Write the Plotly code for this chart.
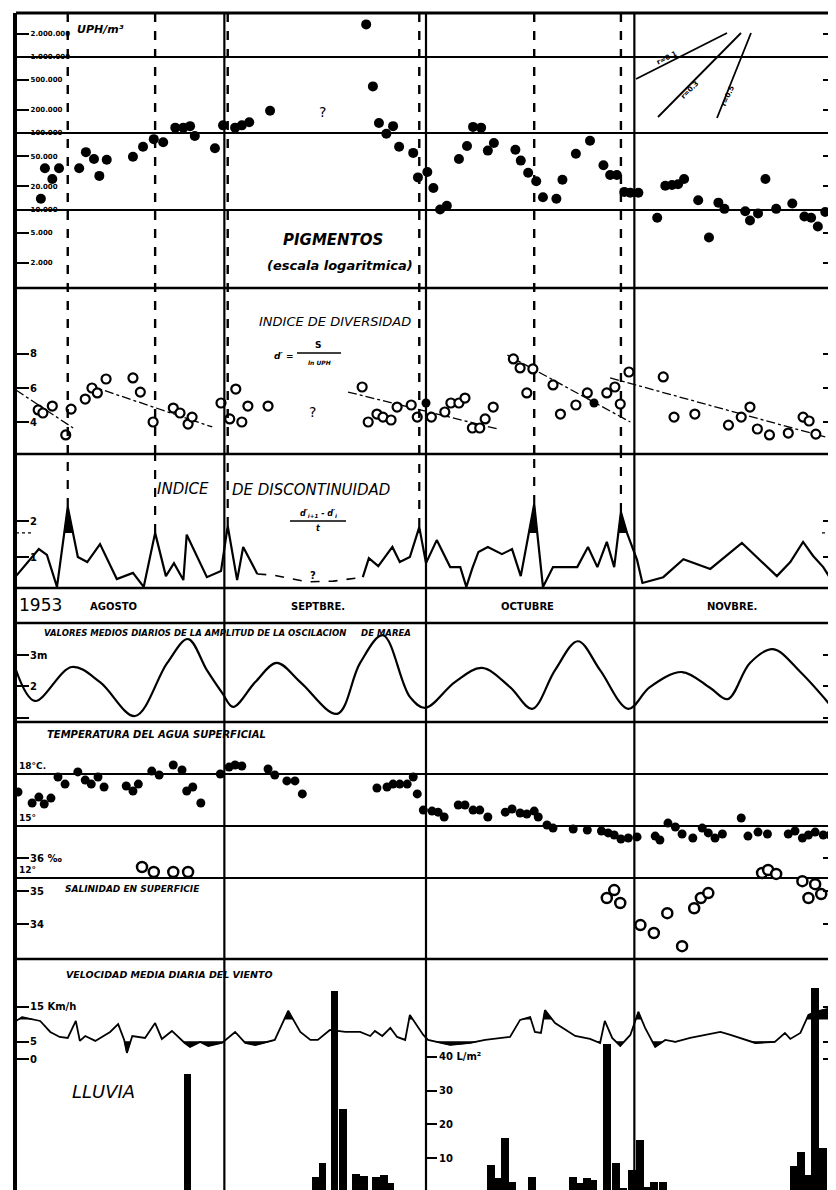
import plotly.graph_objects as go
import numpy as np

# ---------------- DATA (day index: 0 = start of 1 Aug 1953) ----------------
month_start = [31, 61, 92]          # Sept, Oct, Nov boundaries
month_names = ["AGOSTO", "SEPTBRE.", "OCTUBRE", "NOVBRE."]

pig_day = [3.7,4.3,5.4,6.4,9.4,10.4,11.6,12.4,13.5,17.4,18.9,20.5,21.9,23.7,24.9,25.9,26.6,29.6,30.8,32.6,
           33.6,34.7,37.8,52.1,53.1,54.0,55.1,56.1,57.0,59.1,59.8,61.2,62.1,63.1,64.1,65.9,67.1,68.0,69.2,70.2,
           71.1,74.3,75.1,76.2,77.4,78.4,80.4,81.3,83.3,85.4,87.4,88.4,89.4,90.5,91.4,92.6,95.4,96.6,97.6,98.5,
           99.4,101.5,103.1,104.5,105.4,108.5,109.2,110.4,111.5,113.1,115.5,117.3,118.3,119.3,120.4,121.7]
pig_uph = [13800,34700,25100,34700,34700,56200,45700,27500,44700,49000,66100,83200,75900,117500,117500,123000,91200,63100,125900,117500,
           125900,138000,195000,2630000,407000,135000,97700,123000,66100,55000,26300,30900,19100,10000,11200,45700,67600,120200,117500,58900,
           74100,60300,43600,30200,23400,14500,13800,24500,53700,79400,38000,28200,28200,17000,16600,16600,7800,20400,20900,21400,
           25100,13200,4300,12300,10200,9500,7200,8900,25100,10200,12000,8100,7800,6000,9300,12000]

div_day = [3.3,4.0,5.4,7.4,8.2,10.3,11.3,12.1,13.4,17.4,18.5,20.4,23.4,24.4,25.6,26.2,30.5,31.8,32.7,33.6,
           34.5,37.5,51.5,52.4,53.7,54.6,55.8,56.7,58.8,59.7,61.8,63.8,64.7,65.9,66.8,67.9,69.0,69.8,71.0,74.0,
           75.0,76.9,76.0,79.9,81.0,83.3,85.0,87.9,89.1,89.9,91.2,96.3,97.9,101.0,106.0,107.9,109.2,110.3,112.1,114.9,
           117.1,118.0,119.0]
div_val = [4.71,4.53,4.94,3.24,4.76,5.35,6.0,5.71,6.53,6.59,5.76,4.0,4.82,4.53,3.88,4.29,5.12,4.18,5.94,4.0,
           4.94,4.94,6.06,4.0,4.47,4.29,4.12,4.88,5.0,4.29,4.29,4.59,5.12,5.12,5.41,3.65,3.65,4.18,4.88,7.71,
           7.18,7.12,5.71,6.18,4.47,5.0,5.71,5.71,6.06,5.06,6.94,6.65,4.29,4.47,3.82,4.29,4.88,3.59,3.24,3.35,
           4.29,4.06,3.29]
div_solid_day = [61.0, 86.0, 122.0]
div_solid_val = [5.12, 5.12, 5.18]
trend_day = [[0, 8.5], [10.7, 29.2], [49.4, 71.7], [73.1, 91.4], [88.4, 120.4]]
trend_val = [[5.88, 3.65], [6.18, 3.71], [5.76, 3.59], [7.94, 4.0], [6.59, 3.12]]

disc_day_a = [0,3.4,4.6,6.1,7.7,9.2,10.6,12.5,15.0,17.4,19.0,20.7,22.3,23.5,24.9,25.4,28.4,30.5,31.5,32.9,33.8,35.9]
disc_val_a = [0.47,1.22,1.06,0.17,2.39,1.0,0.86,1.36,0.39,0.56,0.17,1.67,0.47,0.83,0.36,1.62,0.44,0.61,1.86,0.36,1.28,0.53]
disc_day_gap = [35.9, 38.2, 43.3, 47.2, 51.6]
disc_val_gap = [0.53, 0.50, 0.31, 0.33, 0.44]
disc_day_b = [51.6,52.5,53.9,56.0,57.1,58.6,60.0,60.7,61.0,62.6,64.6,66.1,67.0,67.9,68.8,70.2,72.3,73.8,75.1,77.1,
              78.4,79.9,83.5,85.1,86.5,87.9,89.0,90.0,90.9,92.4,93.2,96.3,99.3,103.3,108.0,113.2,115.2,117.1,118.6,120.1,121.6]
disc_val_b = [0.44,0.97,0.75,1.28,0.86,1.0,1.83,1.14,0.83,1.47,0.72,0.72,0.17,0.69,1.14,1.28,1.08,1.22,0.47,2.47,
              0.17,0.72,0.72,1.28,0.72,1.42,0.72,2.25,1.67,0.92,0.28,0.44,0.94,0.67,1.39,0.47,0.86,1.42,1.03,0.72,0.28]
disc_threshold = 1.67
disc_peak_day = [7.7, 20.7, 31.5, 60.0, 77.1, 90.0]

tide_day = [0,2.8,8.3,12.5,17.7,22.5,25.6,28.4,30.7,32.3,35.6,38.8,42.3,47.8,51.2,54.6,58.6,60.9,65.3,69.3,
            73.5,76.8,80.2,83.6,86.9,91.1,94.3,99.1,103.3,105.9,109.2,112.6,116.7,122]
tide_m = [2.52,1.54,2.62,2.14,1.06,2.75,3.51,2.52,1.79,1.35,2.14,2.75,2.14,1.13,2.75,3.63,1.67,1.32,2.14,2.59,
          1.98,1.29,2.52,3.44,2.52,1.29,1.98,2.46,1.95,1.60,2.75,3.19,2.46,1.19]

temp_day = [0.3,2.4,3.4,4.2,5.2,6.25,7.3,9.2,10.3,11.2,12.2,13.1,16.4,17.4,18.2,20.2,21.3,23.4,24.7,25.4,
            26.3,27.5,30.4,31.7,32.6,33.6,37.5,38.5,40.3,41.5,42.6,53.7,55.2,56.1,57.1,58.2,59.1,59.7,60.6,61.9,
            62.8,63.7,65.8,66.8,68.0,69.0,70.2,72.8,73.8,75.0,76.0,77.1,77.7,79.0,79.9,82.9,85.0,87.1,88.1,89.0,
            90.0,91.1,92.4,95.1,95.8,97.0,98.1,99.1,100.7,102.1,103.0,104.0,105.1,107.9,108.9,110.4,111.8,114.9,115.9,117.0,
            117.9,118.9,120.1,121.1]
temp_c = [16.96,16.33,16.67,16.27,16.61,17.83,17.42,18.12,17.65,17.42,17.83,17.25,17.31,17.02,17.42,18.17,17.94,18.52,18.23,17.02,
          17.25,16.33,18.0,18.4,18.52,18.46,18.29,17.94,17.6,17.6,16.85,17.19,17.25,17.42,17.42,17.42,17.83,16.85,15.92,15.86,
          15.8,15.52,16.21,16.21,15.92,15.92,15.52,15.8,15.98,15.75,15.69,15.86,15.52,15.06,14.88,14.83,14.77,14.71,14.6,14.48,
          14.25,14.31,14.37,14.42,14.19,15.17,14.94,14.54,14.31,14.88,14.6,14.31,14.54,15.46,14.42,14.65,14.54,14.54,14.71,14.31,
          14.48,14.65,14.48,14.48]

sal_day = [18.75,20.5,23.4,25.6,87.9,89.0,89.9,92.9,94.9,96.9,99.1,100.9,101.9,103.0,111.0,111.9,113.1,117.0,117.9,118.9,119.8]
sal_ppt = [35.73,35.58,35.58,35.58,34.79,35.03,34.64,33.97,33.73,34.33,33.33,34.48,34.79,34.94,35.55,35.64,35.52,35.3,34.79,35.21,34.91]

wind_day = [0,0.9,3.6,5.1,6.5,7.7,8.9,9.5,10.3,11.8,14.0,15.2,16.1,16.5,17.3,19.2,20.7,21.7,23.2,25.1,
            25.9,27.4,28.6,30.7,32.6,34.1,35.6,37.5,38.5,40.5,42.3,43.8,44.9,46.7,49.0,51.2,52.7,53.4,54.5,55.7,
            56.7,57.9,58.6,60.6,61.3,64.6,67.6,69.8,73.5,75.0,76.5,77.2,78.1,78.7,80.2,83.2,85.4,86.9,87.6,88.7,
            89.9,91.4,92.6,93.6,95.1,96.6,98.1,100.3,104.8,106.3,108.5,110.0,112.9,114.4,115.2,116.7,117.9,118.9,122.0]
wind_kmh = [11.0,12.1,11.0,7.86,6.43,6.14,11.0,5.3,6.7,5.3,7.86,10.1,5.57,1.86,6.7,6.14,10.4,5.86,8.14,4.71,
            3.57,5.0,3.86,4.8,7.86,4.71,4.14,5.0,5.57,13.9,7.86,5.57,5.57,8.43,7.86,7.86,6.7,8.14,6.7,9.0,
            6.43,5.57,12.7,7.0,5.57,4.14,4.71,5.57,6.43,11.3,12.1,7.86,7.57,14.1,10.4,6.7,5.86,4.71,11.0,6.14,
            3.86,7.0,13.6,9.0,3.57,5.57,5.0,6.14,7.86,7.0,5.57,4.71,5.0,7.57,5.86,7.57,12.7,13.6,15.0]
wind_hi, wind_lo = 11.4, 5.2

rain_day = [25.5,44.6,45.6,47.4,48.6,50.6,51.8,53.6,54.7,55.7,70.7,71.7,72.7,73.8,76.8,82.9,84.0,85.0,85.9,87.9,
            89.3,90.3,91.7,92.8,93.7,94.9,96.3,115.7,116.8,117.8,118.9,120.1]
rain_mm = [35,4.4,8.6,59.6,24.6,5.2,4.8,4.4,5.0,2.6,8.0,4.0,16.0,3.0,4.4,4.4,2.6,4.0,3.5,44,
           8.6,1.0,6.5,15.4,1.5,3.0,3.0,7.7,11.8,5.0,60.5,13.0]

# ---------------- LAYOUT HELPERS ----------------
# the page body has an 8px margin, so the figure starts at page (8, 8)
PAGE_W, PAGE_H = 836, 1190
BODY = 8
W, H = PAGE_W - BODY, PAGE_H - BODY
PL, PT = 16, 13                      # plot area origin on the page
ML, MT = PL - BODY, PT - BODY
PW, PH = PAGE_W - PL, PAGE_H - PT
FONT = "DejaVu Sans"


def dom(top, bottom):
    return [(PAGE_H - bottom) / PH, (PAGE_H - top) / PH]


def px(xp):
    return (xp - PL) / PW


def py(yp):
    return (PAGE_H - yp) / PH


def excursions(xs, ys, thr, above=True):
    s = 1 if above else -1
    polys, cur = [], None
    for i in range(len(xs)):
        v = (ys[i] - thr) * s
        if v > 0:
            if cur is None:
                if i > 0:
                    v0 = (ys[i - 1] - thr) * s
                    t = v0 / (v0 - v)
                    xc = xs[i - 1] + t * (xs[i] - xs[i - 1])
                else:
                    xc = xs[0]
                cur = ([xc], [thr])
            cur[0].append(xs[i]); cur[1].append(ys[i])
        elif cur is not None:
            v0 = (ys[i - 1] - thr) * s
            t = v0 / (v0 - v)
            xc = xs[i - 1] + t * (xs[i] - xs[i - 1])
            cur[0].append(xc); cur[1].append(thr)
            polys.append(cur); cur = None
    if cur is not None:
        cur[0].append(xs[-1]); cur[1].append(thr)
        polys.append(cur)
    X, Y = [], []
    for p in polys:
        X += p[0] + [None]; Y += p[1] + [None]
    return X, Y


fig = go.Figure()
BLK = "black"

# Pigments
fig.add_trace(go.Scatter(x=pig_day, y=pig_uph, mode="markers", yaxis="y",
                         marker=dict(size=10, color=BLK)))
# Diversity
for td, tv in zip(trend_day, trend_val):
    fig.add_trace(go.Scatter(x=td, y=tv, mode="lines", yaxis="y2",
                             line=dict(color=BLK, width=1.3, dash="dashdot")))
fig.add_trace(go.Scatter(x=div_day, y=div_val, mode="markers", yaxis="y2",
                         marker=dict(size=9, color="white", symbol="circle",
                                     line=dict(color=BLK, width=2.2))))
fig.add_trace(go.Scatter(x=div_solid_day, y=div_solid_val, mode="markers", yaxis="y2",
                         marker=dict(size=9, color=BLK)))
# Discontinuity
dall_x = disc_day_a + disc_day_b
dall_y = disc_val_a + disc_val_b
for xs, ys in ((disc_day_a, disc_val_a), (disc_day_b, disc_val_b)):
    fx, fy = excursions(xs, ys, disc_threshold, True)
    fig.add_trace(go.Scatter(x=fx, y=fy, mode="lines", fill="toself", fillcolor=BLK,
                             line=dict(color=BLK, width=1), yaxis="y3"))
    fig.add_trace(go.Scatter(x=xs, y=ys, mode="lines", yaxis="y3",
                             line=dict(color=BLK, width=2.2)))
fig.add_trace(go.Scatter(x=disc_day_gap, y=disc_val_gap, mode="lines", yaxis="y3",
                         line=dict(color=BLK, width=1.6, dash="dash")))
# Tide
fig.add_trace(go.Scatter(x=tide_day, y=tide_m, mode="lines", yaxis="y4",
                         line=dict(color=BLK, width=2.2, shape="spline", smoothing=1.0)))
# Temperature
fig.add_trace(go.Scatter(x=temp_day, y=temp_c, mode="markers", yaxis="y5",
                         marker=dict(size=9, color=BLK)))
# Salinity
fig.add_trace(go.Scatter(x=sal_day, y=sal_ppt, mode="markers", yaxis="y6",
                         marker=dict(size=10, color="white",
                                     line=dict(color=BLK, width=2.5))))
# Rain
fig.add_trace(go.Bar(x=rain_day, y=rain_mm, yaxis="y8", width=1.15,
                     marker=dict(color=BLK, line=dict(width=0))))
# Wind
for thr, ab in ((wind_hi, True), (wind_lo, False)):
    fx, fy = excursions(wind_day, wind_kmh, thr, ab)
    fig.add_trace(go.Scatter(x=fx, y=fy, mode="lines", fill="toself", fillcolor=BLK,
                             line=dict(color=BLK, width=1), yaxis="y7"))
fig.add_trace(go.Scatter(x=wind_day, y=wind_kmh, mode="lines", yaxis="y7",
                         line=dict(color=BLK, width=1.8)))


def yax(top, bottom, rng, vals, texts, size=10, **kw):
    d = dict(domain=dom(top, bottom), range=rng, anchor="x", tickvals=vals, ticktext=texts,
             ticks="inside", ticklen=13, tickwidth=1.6, tickcolor=BLK,
             ticklabelposition="inside", mirror="ticks",
             tickfont=dict(family=FONT, size=size, color=BLK, weight="bold"),
             showgrid=False, zeroline=False, showline=False, fixedrange=True)
    d.update(kw)
    return d


pig_ticks = [2e6, 1e6, 5e5, 2e5, 1e5, 5e4, 2e4, 1e4, 5e3, 2e3]
pig_text = ["2.000.000", "1.000.000", "500.000", "200.000", "100.000", "50.000", "20.000",
            "10.000", "5.000", "2.000"]

fig.update_layout(
    width=W, height=H, margin=dict(l=ML, r=0, t=MT, b=0, pad=0),
    paper_bgcolor="white", plot_bgcolor="rgba(0,0,0,0)", showlegend=False,
    bargap=0,
    xaxis=dict(range=[0, 122], domain=[0, 1], visible=False, anchor="y7", fixedrange=True),
    yaxis=yax(13, 288, [2.974, 6.569], pig_ticks, pig_text, size=7, type="log",
              minor=dict(tickvals=[1e6, 1e5, 1e4], showgrid=True, gridcolor=BLK, gridwidth=1.6, ticks="")),
    yaxis2=yax(288, 454, [2.12, 11.88], [8, 6, 4], ["8", "6", "4"]),
    yaxis3=yax(454, 588, [0.14, 3.86], [2, 1], ["2", "1"]),
    yaxis4=yax(623, 722, [0.87, 4.02], [3, 2, 1], ["3m", "2", "1"]),
    yaxis5=yax(722, 880, [11.885, 21.0], [18, 15, 12], ["18°C.", "15°", "12°"], size=9,
               ticks="", mirror=False, showgrid=True, gridcolor=BLK, gridwidth=1.6, ticklabelshift=-8),
    yaxis6=yax(840, 959, [32.94, 36.55], [36, 35, 34], ["36 ‰", "35", "34"]),
    yaxis7=yax(959, 1190, [-37.3, 28.7], [15, 5, 0], ["15 Km/h", "5", "0"]),
    yaxis8=dict(domain=dom(959, 1190), range=[0.5, 69.1], anchor="free", position=px(426),
                side="right", tickvals=[40, 30, 20, 10], ticktext=["40 L/m²", "30", "20", "10"],
                ticks="outside", ticklen=10, tickwidth=1.8, tickcolor=BLK,
                tickfont=dict(family=FONT, size=10, color=BLK, weight="bold"),
                showgrid=False, zeroline=False, showline=False, fixedrange=True),
)

shapes = []
# panel borders
for yp, wdt in ((13, 3), (288, 2.5), (454, 2.5), (588, 2.5), (623, 2.5), (722, 2.5), (959, 2.5)):
    shapes.append(dict(type="line", xref="paper", yref="paper", x0=0, x1=1, y0=py(yp), y1=py(yp),
                       line=dict(color=BLK, width=wdt)))
# left border
shapes.append(dict(type="line", xref="paper", yref="paper", x0=px(15), x1=px(15), y0=0, y1=1,
                   line=dict(color=BLK, width=4)))
# month boundaries
for m in month_start:
    shapes.append(dict(type="line", xref="x", yref="paper", x0=m, x1=m, y0=0, y1=1,
                       line=dict(color=BLK, width=2.2)))
# dashed discontinuity markers
d3top = dom(454, 588)[1]
for p in disc_peak_day:
    pv = float(np.interp(p, dall_x, dall_y))
    shapes.append(dict(type="line", xref="x", yref="y3", x0=p, x1=p, y0=pv, y1=3.86,
                       line=dict(color=BLK, width=2.2, dash="dash")))
    shapes.append(dict(type="line", xref="x", yref="paper", x0=p, x1=p, y0=d3top, y1=1,
                       line=dict(color=BLK, width=2.4, dash="dash")))
# threshold mark of the discontinuity index (left and right edges)
for a, b in ((16, 31), (822, 836)):
    shapes.append(dict(type="line", xref="paper", yref="y3", x0=px(a), x1=px(b),
                       y0=disc_threshold, y1=disc_threshold,
                       line=dict(color=BLK, width=1.3, dash="dot")))
# slope reference lines (r = 0.1, 0.3, 0.5)
for (a, b, c, d) in ((636, 79, 727, 33), (658, 117, 741, 33), (717, 118, 751, 33)):
    shapes.append(dict(type="line", xref="paper", yref="paper", x0=px(a), y0=py(b), x1=px(c), y1=py(d),
                       line=dict(color=BLK, width=1.8)))
# formula fraction bars
shapes.append(dict(type="line", xref="paper", yref="paper", x0=px(297), x1=px(341), y0=py(353), y1=py(353),
                   line=dict(color=BLK, width=1.3)))
shapes.append(dict(type="line", xref="paper", yref="paper", x0=px(290), x1=px(346), y0=py(521), y1=py(521),
                   line=dict(color=BLK, width=1.3)))
fig.update_layout(shapes=shapes)


def ann(x, y, text, size, italic=False, bold=True, xanchor="center", angle=0):
    fig.add_annotation(xref="paper", yref="paper", x=px(x), y=py(y), text=text, showarrow=False,
                       xanchor=xanchor, yanchor="middle", textangle=angle,
                       font=dict(family=FONT, size=size, color=BLK,
                                 weight="bold" if bold else "normal",
                                 style="italic" if italic else "normal"))


ann(75, 30, "UPH/m³", 11, italic=True, xanchor="left")
ann(322, 112, "?", 14, bold=False)
ann(333, 240, "PIGMENTOS", 15, italic=True)
ann(340, 265, "(escala logaritmica)", 13, italic=True)
ann(335, 322, "INDICE DE DIVERSIDAD", 13, italic=True, bold=False)
ann(284, 356, "d′ =", 9, italic=True)
ann(318, 345, "S", 9)
ann(319, 362, "ln UPH", 6, italic=True)
ann(312, 412, "?", 14, bold=False)
ann(155, 489, "INDICE", 15, italic=True, bold=False, xanchor="left")
ann(230, 490, "DE DISCONTINUIDAD", 15, italic=True, bold=False, xanchor="left")
ann(318, 514, "d′<sub>i+1</sub> - d′<sub>i</sub>", 8, italic=True)
ann(318, 528, "t", 8, italic=True)
ann(313, 575, "?", 10)
ann(40, 605, "1953", 17, bold=False)
for name, xc in zip(month_names, (113, 318, 527, 732)):
    ann(xc, 606, name, 10)
ann(42, 633, "VALORES MEDIOS DIARIOS DE LA AMPLITUD DE LA OSCILACION     DE MAREA", 8.5,
    italic=True, xanchor="left")
ann(45, 735, "TEMPERATURA DEL AGUA SUPERFICIAL", 10, italic=True, xanchor="left")
ann(63, 889, "SALINIDAD EN SUPERFICIE", 9, italic=True, xanchor="left")
ann(64, 974, "VELOCIDAD MEDIA DIARIA DEL VIENTO", 9.5, italic=True, xanchor="left")
ann(103, 1091, "LLUVIA", 18, italic=True, bold=False)
ann(667, 58, "r=0.1", 7, angle=-27)
ann(690, 90, "r=0.3", 7, angle=-45)
ann(728, 96, "r=0.5", 7, angle=-65)

fig.write_html("out.html")
